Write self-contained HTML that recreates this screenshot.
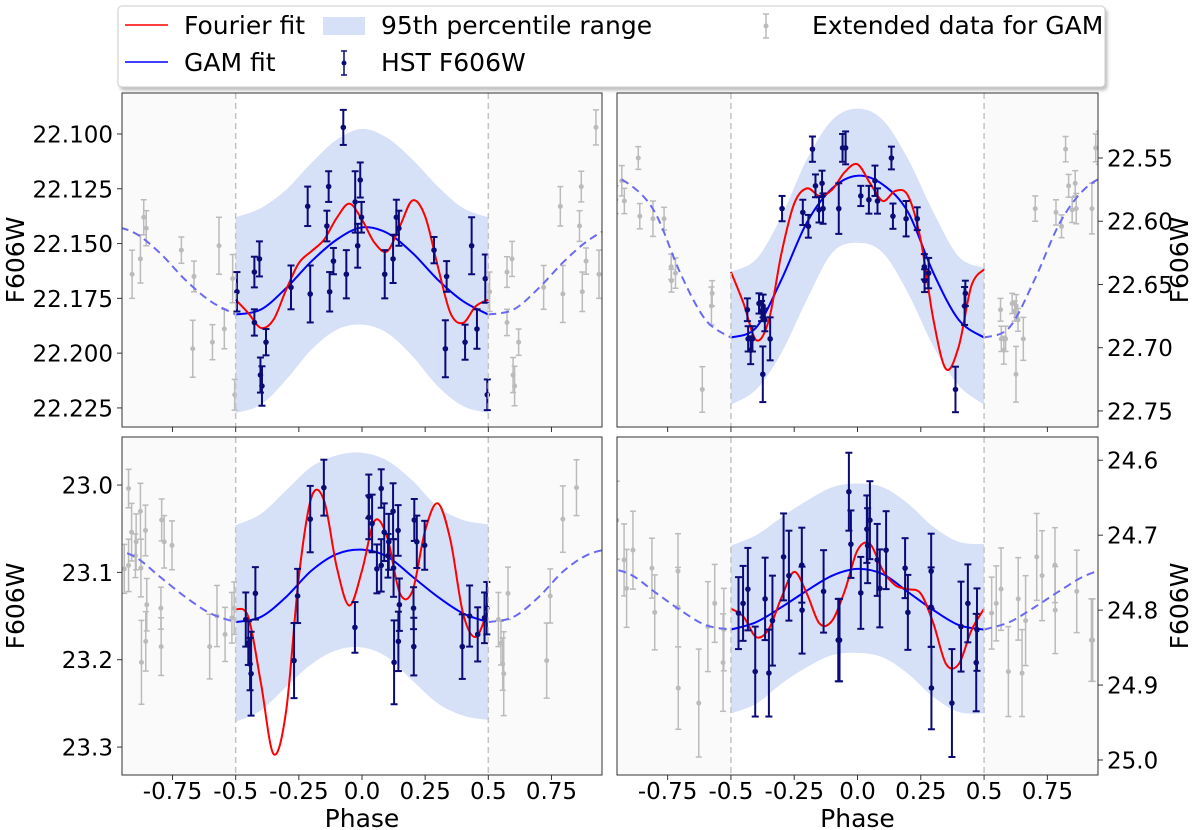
<!DOCTYPE html>
<html><head><meta charset="utf-8"><style>
body{margin:0;background:#fff;}
svg{display:block;font-family:"DejaVu Sans","Liberation Sans",sans-serif;}
</style></head><body>
<svg id="fig" width="1200" height="830" viewBox="0 0 1200 830" xmlns="http://www.w3.org/2000/svg">
<defs>
<filter id="sh" x="-5%" y="-20%" width="110%" height="150%"><feDropShadow dx="2" dy="3" stdDeviation="1.5" flood-color="#000" flood-opacity="0.25"/></filter>
</defs>
<g>
<rect x="118" y="6" width="987" height="81" rx="4" fill="#fff" stroke="#ccc" filter="url(#sh)"/>
<g><line x1="125" y1="25" x2="168" y2="25" stroke="#ff0000" stroke-width="1.5"/><text x="184" y="34" font-size="25">Fourier fit</text></g>
<g><line x1="125" y1="62" x2="168" y2="62" stroke="#0000ff" stroke-width="1.5"/><text x="184" y="71" font-size="25">GAM fit</text></g>
<g><rect x="323" y="17" width="42" height="18" fill="#d6e0f7"/><text x="381" y="34" font-size="25">95th percentile range</text></g>
<g><line x1="344" y1="51" x2="344" y2="75" stroke="#0b0b78" stroke-width="1.5"/><line x1="341" y1="51" x2="347" y2="51" stroke="#0b0b78" stroke-width="1.5"/><line x1="341" y1="75" x2="347" y2="75" stroke="#0b0b78" stroke-width="1.5"/><circle cx="344" cy="63" r="2.5" fill="#0b0b78"/><text x="381" y="71" font-size="25">HST F606W</text></g>
<g><line x1="766" y1="14" x2="766" y2="38" stroke="#bbb" stroke-width="1.5"/><line x1="763" y1="14" x2="769" y2="14" stroke="#bbb" stroke-width="1.5"/><line x1="763" y1="38" x2="769" y2="38" stroke="#bbb" stroke-width="1.5"/><circle cx="766" cy="26" r="2.5" fill="#bbb"/><text x="812" y="34" font-size="25">Extended data for GAM</text></g>
</g>
</svg>
<script>
// ---------- shared grids ----------
const gridCoarse = [-0.5,-0.4,-0.3,-0.2,-0.1,0,0.1,0.2,0.3,0.4,0.5];
const gridFine = [-0.5,-0.45,-0.4,-0.35,-0.3,-0.25,-0.2,-0.15,-0.1,-0.05,0,0.05,0.1,0.15,0.2,0.25,0.3,0.35,0.4,0.45,0.5];
const xTicks = [-0.75,-0.5,-0.25,0,0.25,0.5,0.75];
const xTickLabels = ["-0.75","-0.5","-0.25","0.0","0.25","0.5","0.75"];

// ---------- top-left ----------
const tlPhase = [-0.495,-0.426,-0.426,-0.406,-0.402,-0.396,-0.380,-0.281,-0.215,-0.205,-0.139,-0.132,-0.128,-0.113,-0.074,-0.062,-0.027,-0.017,-0.007,-0.002,0.090,0.123,0.136,0.146,0.285,0.335,0.330,0.434,0.408,0.455,0.488,0.496];
const tlMag = [22.172,22.163,22.186,22.157,22.210,22.215,22.195,22.170,22.133,22.173,22.142,22.124,22.172,22.158,22.097,22.164,22.131,22.151,22.121,22.138,22.164,22.157,22.138,22.143,22.153,22.165,22.198,22.151,22.195,22.189,22.166,22.219];
const tlErr = [0.009,0.007,0.006,0.008,0.008,0.009,0.006,0.010,0.009,0.013,0.007,0.007,0.009,0.006,0.008,0.011,0.014,0.010,0.008,0.007,0.011,0.011,0.008,0.008,0.006,0.007,0.013,0.013,0.008,0.009,0.011,0.007];
const tlGam = [22.1824,22.1801,22.1703,22.1581,22.1482,22.1426,22.1452,22.1543,22.1665,22.1763,22.1824];
const tlFourier = [22.1756,22.1817,22.1885,22.1847,22.1710,22.1589,22.1535,22.1482,22.1383,22.1318,22.1391,22.1497,22.1535,22.1421,22.1303,22.1376,22.1604,22.1817,22.1862,22.1786,22.1756];
const tlBandHi = [22.1380,22.1338,22.1254,22.1132,22.1026,22.0977,22.1018,22.1117,22.1239,22.1338,22.1380];
const tlBandLo = [22.2273,22.2235,22.2121,22.1984,22.1893,22.1870,22.1908,22.2014,22.2151,22.2242,22.2273];
const tlYTicks = [22.100,22.125,22.150,22.175,22.200,22.225];

// ---------- top-right ----------
const trPhase = [-0.435,-0.432,-0.422,-0.415,-0.389,-0.379,-0.373,-0.366,-0.374,-0.345,-0.298,-0.216,-0.194,-0.178,-0.166,-0.152,-0.140,-0.136,-0.074,-0.059,-0.047,0.013,0.045,0.069,0.079,0.134,0.140,0.192,0.236,0.264,0.265,0.281,0.387,0.423,0.426];
const trMag = [22.670,22.693,22.702,22.693,22.665,22.671,22.667,22.678,22.721,22.693,22.590,22.593,22.604,22.543,22.572,22.591,22.570,22.590,22.590,22.542,22.542,22.580,22.583,22.568,22.584,22.550,22.596,22.598,22.598,22.636,22.647,22.641,22.733,22.667,22.657];
const trErr = [0.009,0.010,0.011,0.010,0.008,0.008,0.009,0.009,0.022,0.017,0.010,0.010,0.009,0.010,0.009,0.010,0.010,0.012,0.020,0.011,0.013,0.008,0.011,0.012,0.010,0.009,0.010,0.014,0.009,0.010,0.009,0.012,0.018,0.015,0.010];
const trGam = [22.692,22.684,22.646,22.601,22.574,22.564,22.571,22.593,22.641,22.678,22.692];
const trFourier = [22.640,22.665,22.694,22.678,22.625,22.586,22.574,22.580,22.575,22.561,22.555,22.570,22.584,22.576,22.580,22.615,22.678,22.717,22.699,22.651,22.638];
const trBandHi = [22.640,22.630,22.596,22.551,22.520,22.511,22.520,22.551,22.593,22.628,22.637];
const trBandLo = [22.745,22.733,22.704,22.662,22.625,22.617,22.625,22.657,22.699,22.730,22.745];
const trYTicks = [22.55,22.60,22.65,22.70,22.75];

// ---------- bottom-left ----------
const blPhase = [-0.460,-0.450,-0.443,-0.439,-0.422,-0.269,-0.255,-0.205,-0.151,-0.028,0.027,0.027,0.040,0.059,0.076,0.076,0.088,0.103,0.106,0.123,0.125,0.127,0.143,0.144,0.148,0.204,0.205,0.207,0.217,0.248,0.397,0.426,0.458,0.485,0.494];
const blMag = [23.154,23.181,23.205,23.216,23.124,23.201,23.127,23.039,23.003,23.163,23.013,23.037,23.044,23.096,23.004,23.092,23.054,23.081,23.065,23.030,23.095,23.203,23.052,23.179,23.137,23.141,23.185,23.040,23.065,23.069,23.185,23.150,23.171,23.152,23.141];
const blErr = [0.031,0.025,0.030,0.048,0.030,0.043,0.031,0.038,0.032,0.029,0.025,0.025,0.033,0.028,0.022,0.030,0.033,0.025,0.032,0.032,0.033,0.048,0.029,0.034,0.030,0.024,0.033,0.024,0.030,0.028,0.037,0.035,0.031,0.029,0.030];
const blGam = [23.157,23.151,23.128,23.098,23.079,23.074,23.082,23.105,23.128,23.147,23.157];
const blFourier = [23.142,23.151,23.227,23.308,23.258,23.105,23.014,23.018,23.094,23.138,23.098,23.041,23.060,23.124,23.121,23.052,23.021,23.063,23.147,23.174,23.142];
const blBandHi = [23.046,23.033,23.006,22.979,22.966,22.963,22.972,22.995,23.025,23.040,23.045];
const blBandLo = [23.271,23.258,23.231,23.205,23.189,23.186,23.197,23.224,23.250,23.264,23.269];
const blYTicks = [23.0,23.1,23.2,23.3];

// ---------- bottom-right ----------
const brPhase = [-0.470,-0.452,-0.433,-0.404,-0.365,-0.350,-0.336,-0.292,-0.271,-0.220,-0.219,-0.134,-0.076,-0.071,-0.034,-0.026,0.013,0.037,0.040,0.049,0.078,0.088,0.113,0.188,0.199,0.291,0.291,0.292,0.373,0.409,0.436,0.469,0.472];
const brMag = [24.804,24.791,24.772,24.882,24.785,24.884,24.814,24.729,24.754,24.740,24.800,24.775,24.840,24.840,24.642,24.712,24.777,24.692,24.714,24.680,24.733,24.771,24.720,24.744,24.803,24.748,24.796,24.904,24.924,24.822,24.791,24.870,24.826];
const brErr = [0.048,0.050,0.055,0.060,0.055,0.058,0.060,0.058,0.060,0.050,0.058,0.055,0.055,0.055,0.052,0.045,0.048,0.045,0.050,0.052,0.048,0.052,0.052,0.040,0.050,0.050,0.053,0.055,0.072,0.060,0.052,0.065,0.055];
const brGam = [24.826,24.816,24.796,24.774,24.754,24.745,24.752,24.776,24.800,24.820,24.826];
const brFourier = [24.798,24.809,24.836,24.825,24.783,24.749,24.778,24.818,24.814,24.774,24.720,24.712,24.747,24.767,24.772,24.778,24.818,24.872,24.872,24.827,24.798];
const brBandHi = [24.714,24.700,24.676,24.654,24.636,24.631,24.636,24.658,24.689,24.709,24.712];
const brBandLo = [24.938,24.925,24.898,24.876,24.860,24.857,24.863,24.885,24.916,24.936,24.938];
const brYTicks = [24.6,24.7,24.8,24.9,25.0];

const NS = "http://www.w3.org/2000/svg";
const fig = document.getElementById('fig');
function mk(tag, attrs, parent){const e=document.createElementNS(NS,tag);for(const k in attrs)e.setAttribute(k,attrs[k]);parent.appendChild(e);return e;}
function smooth(pts){
  if(!pts.length) return '';
  let d='M'+pts[0][0].toFixed(2)+','+pts[0][1].toFixed(2);
  for(let i=0;i<pts.length-1;i++){
    const p0=pts[Math.max(0,i-1)],p1=pts[i],p2=pts[i+1],p3=pts[Math.min(pts.length-1,i+2)];
    const c1=[p1[0]+(p2[0]-p0[0])/6,p1[1]+(p2[1]-p0[1])/6];
    const c2=[p2[0]-(p3[0]-p1[0])/6,p2[1]-(p3[1]-p1[1])/6];
    d+='C'+c1[0].toFixed(2)+','+c1[1].toFixed(2)+' '+c2[0].toFixed(2)+','+c2[1].toFixed(2)+' '+p2[0].toFixed(2)+','+p2[1].toFixed(2);
  }
  return d;
}

function panel(cfg){
  const {name,x0,x1,y0,y1,ymin,ymax,phase,mag,err,gam,fourier,hi,lo,yticks,fmt,right,bottom}=cfg;
  const sx=p=>x0+(p+0.95)/1.9*(x1-x0);
  const sy=m=>y0+(m-ymin)/(ymax-ymin)*(y1-y0);
  const g=mk('g',{},fig);
  
  
  const cid='clip-'+name;
  const cp=mk('clipPath',{id:cid},g);
  mk('rect',{x:x0,y:y0,width:x1-x0,height:y1-y0},cp);
  const bg=mk('rect',{x:x0,y:y0,width:x1-x0,height:y1-y0,fill:'#fafafa'},g);
  
  
  mk('rect',{x:sx(-0.5),y:y0,width:sx(0.5)-sx(-0.5),height:y1-y0,fill:'#fff'},g);
  const inner=mk('g',{'clip-path':'url(#'+cid+')'},g);
  const up=gridCoarse.map((p,i)=>[sx(p),sy(hi[i])]);
  const dn=gridCoarse.map((p,i)=>[sx(p),sy(lo[i])]).reverse();
  const band=mk('path',{d:smooth(up)+smooth(dn).replace('M','L')+'Z',fill:'#d6e0f7'},inner);
  
  
  const eg=mk('g',{stroke:'#bbb',fill:'#bbb','stroke-width':1.5},inner);
  
  
  for(const s of [-1,1]){
    phase.forEach((p,i)=>{
      const q=p+s; if(q<-0.97||q>0.97) return;
      const X=sx(q),a=sy(mag[i]-err[i]),b=sy(mag[i]+err[i]);
      mk('line',{x1:X,y1:a,x2:X,y2:b},eg);
      mk('line',{x1:X-3,y1:a,x2:X+3,y2:a},eg);
      mk('line',{x1:X-3,y1:b,x2:X+3,y2:b},eg);
      mk('circle',{cx:X,cy:sy(mag[i]),r:2.5,stroke:'none'},eg);
    });
  }
  for(const s of [-1,1]){
    const pts=gridCoarse.map((p,i)=>[sx(p+s),sy(gam[i])]);
    const dl=mk('path',{d:smooth(pts),fill:'none',stroke:'#6b6bf2','stroke-width':2,'stroke-dasharray':'8,5'},inner);
    
    
  }
  for(const p of [-0.5,0.5]){
    const vl=mk('line',{x1:sx(p),x2:sx(p),y1:y0,y2:y1,stroke:'#c4c4c4','stroke-width':1.5,'stroke-dasharray':'6,4'},g);
    
    
  }
  const gl=mk('path',{d:smooth(gridCoarse.map((p,i)=>[sx(p),sy(gam[i])])),fill:'none',stroke:'#0000ff','stroke-width':2},inner);
  
  
  const fl=mk('path',{d:smooth(gridFine.map((p,i)=>[sx(p),sy(fourier[i])])),fill:'none',stroke:'#ff0000','stroke-width':2},inner);
  
  
  const hg=mk('g',{stroke:'#0b0b78',fill:'#0b0b78','stroke-width':2},inner);
  
  
  phase.forEach((p,i)=>{
    const X=sx(p),a=sy(mag[i]-err[i]),b=sy(mag[i]+err[i]);
    mk('line',{x1:X,y1:a,x2:X,y2:b},hg);
    mk('line',{x1:X-3.5,y1:a,x2:X+3.5,y2:a},hg);
    mk('line',{x1:X-3.5,y1:b,x2:X+3.5,y2:b},hg);
    const c=mk('circle',{cx:X,cy:sy(mag[i]),r:2.8,stroke:'none'},hg);
    
    
  });
  mk('rect',{x:x0,y:y0,width:x1-x0,height:y1-y0,fill:'none',stroke:'#333','stroke-width':1},g);
  const yt=mk('g',{},g);
  
  
  yticks.forEach(t=>{
    const Y=sy(t);
    if(right){
      mk('line',{x1:x1,x2:x1+5,y1:Y,y2:Y,stroke:'#333'},yt);
      const tx=mk('text',{x:x1+9,y:Y+8.5,'font-size':23},yt); tx.textContent=t.toFixed(fmt);
    } else {
      mk('line',{x1:x0-5,x2:x0,y1:Y,y2:Y,stroke:'#333'},yt);
      const tx=mk('text',{x:x0-9,y:Y+8.5,'font-size':23,'text-anchor':'end'},yt); tx.textContent=t.toFixed(fmt);
    }
  });
  const yl=mk('text',{'font-size':25,'text-anchor':'middle',transform:right?`translate(${x1+90},${(y0+y1)/2}) rotate(-90)`:`translate(${x0-98},${(y0+y1)/2}) rotate(-90)`},g);
  yl.textContent='F606W';
  
  
  const xt=mk('g',{},g);
  
  
  xTicks.forEach((t,i)=>{
    const X=sx(t);
    mk('line',{x1:X,x2:X,y1:y1,y2:y1+5,stroke:'#333'},xt);
    if(bottom){const tx=mk('text',{x:X,y:y1+24,'font-size':23,'text-anchor':'middle'},xt); tx.textContent=xTickLabels[i];}
  });
  if(bottom){
    const xl=mk('text',{x:(x0+x1)/2,y:y1+52,'font-size':25,'text-anchor':'middle'},g);
    xl.textContent='Phase';
    
    
  }
}
panel({name:'panel-top-left',x0:122,x1:602,y0:93,y1:427,ymin:22.0813,ymax:22.2337,phase:tlPhase,mag:tlMag,err:tlErr,gam:tlGam,fourier:tlFourier,hi:tlBandHi,lo:tlBandLo,yticks:tlYTicks,fmt:3,right:false,bottom:false});
panel({name:'panel-top-right',x0:617,x1:1098,y0:93,y1:427,ymin:22.4986,ymax:22.7627,phase:trPhase,mag:trMag,err:trErr,gam:trGam,fourier:trFourier,hi:trBandHi,lo:trBandLo,yticks:trYTicks,fmt:2,right:true,bottom:false});
panel({name:'panel-bottom-left',x0:122,x1:602,y0:437,y1:775,ymin:22.945,ymax:23.332,phase:blPhase,mag:blMag,err:blErr,gam:blGam,fourier:blFourier,hi:blBandHi,lo:blBandLo,yticks:blYTicks,fmt:1,right:false,bottom:true});
panel({name:'panel-bottom-right',x0:617,x1:1098,y0:437,y1:775,ymin:24.569,ymax:25.02,phase:brPhase,mag:brMag,err:brErr,gam:brGam,fourier:brFourier,hi:brBandHi,lo:brBandLo,yticks:brYTicks,fmt:1,right:true,bottom:true});
</script>
</body></html>
